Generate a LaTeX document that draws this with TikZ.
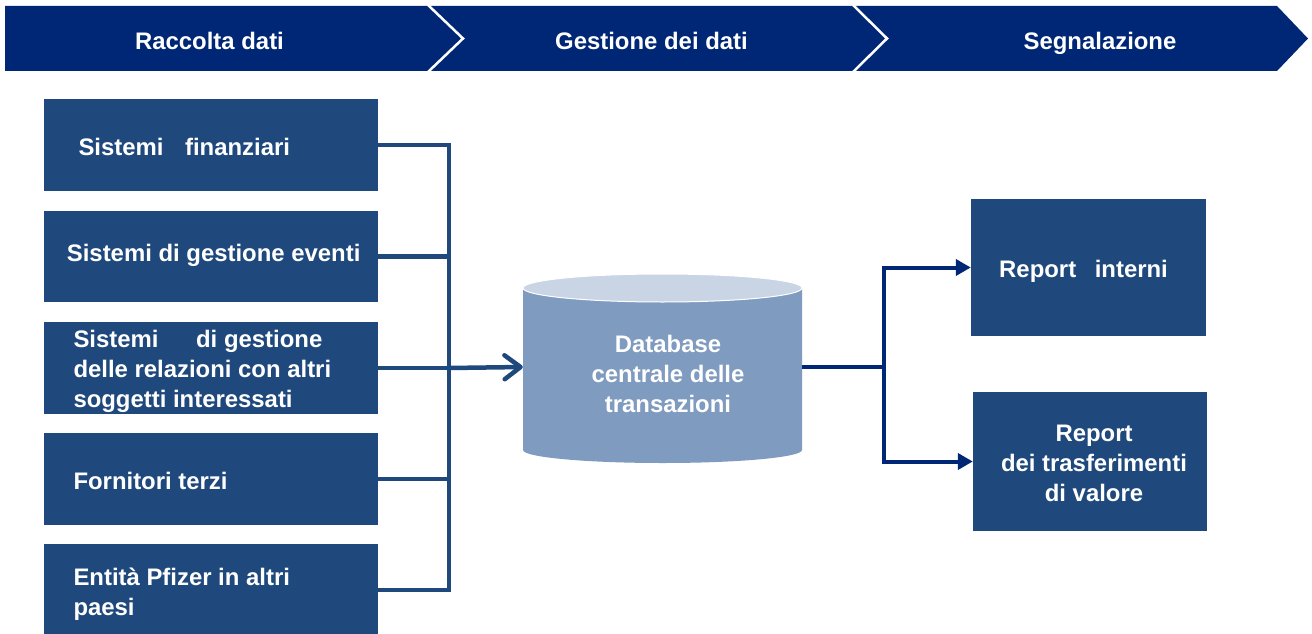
\documentclass[tikz,border=0pt]{standalone}
\usepackage{fontspec}
\setmainfont{Liberation Sans}
\usetikzlibrary{arrows.meta}
\definecolor{hdr}{HTML}{002776}
\definecolor{boxc}{HTML}{1F497D}
\definecolor{cylbody}{HTML}{7F9BC0}
\definecolor{cyltop}{HTML}{C9D5E5}
\begin{document}
\begin{tikzpicture}[x=1pt,y=-1pt,
  every node/.style={font=\fontsize{23.9}{30}\selectfont\bfseries, text=white, inner sep=0pt},
  srcbox/.style={fill=boxc, minimum width=334pt, minimum height=92pt},
  repbox/.style={fill=boxc},
  lconn/.style={draw=boxc, line width=4.5pt, line join=miter},
  rconn/.style={draw=hdr, line width=4pt, line join=miter},
  chev/.style={draw=white, line width=2.5pt}]
\useasboundingbox (0,0) rectangle (1312,634);
\fill[white] (0,0) rectangle (1312,634);
% header band
\fill[hdr] (5,6) -- (1277,6) -- (1308,38.5) -- (1277,71) -- (5,71) -- cycle;
\draw[chev] (428,5) -- (463,38.5) -- (428,72);
\draw[chev] (853,5) -- (887,38.5) -- (853,72);
\node[anchor=base] (h1) at (209.5,49) {Raccolta dati};
\node[anchor=base] (h2) at (651.5,49) {Gestione dei dati};
\node[anchor=base] (h3) at (1100,49) {Segnalazione};
% source boxes
\node[srcbox] (b1) at (211,145) {};
\node[srcbox, minimum height=91pt] (b2) at (211,256.5) {};
\node[srcbox] (b3) at (211,368) {};
\node[srcbox] (b4) at (211,479) {};
\node[srcbox] (b5) at (211,590) {};
\node[anchor=base west] (t1) at (78.3,155) {Sistemi\hspace{15pt} finanziari};
\node[anchor=base west] (t2) at (66.7,261) {Sistemi di gestione eventi};
\node[anchor=west, align=left] (t3) at (73.3,371.5) {Sistemi\hspace{31pt} di gestione\\delle relazioni con altri\\soggetti interessati};
\node[anchor=base west] (t4) at (73.3,489.5) {Fornitori terzi};
\node[anchor=west, align=left] (t5) at (73.3,594) {Entità Pfizer in altri\\paesi};
% cylinder
\fill[cylbody] (523,288) -- (523,450) arc[start angle=180, end angle=0, x radius=139.5, y radius=13] -- (802,288) -- cycle;
\filldraw[fill=cyltop, draw=white, line width=1pt] (662.5,288) ellipse [x radius=139.5, y radius=14];
\node[minimum width=279pt, minimum height=189pt] (db) at (662.5,367) {};
\node[align=center] (t8) at (668,374.4) {Database\\centrale delle\\transazioni};
% report boxes
\node[repbox, minimum width=235pt, minimum height=137pt] (r1) at (1088.5,267.5) {};
\node[repbox, minimum width=234pt, minimum height=139pt] (r2) at (1090,461.5) {};
\node[anchor=base west] (t6) at (999,277) {Report\hspace{12pt} interni};
\node[align=center] (t7) at (1094,463) {Report\\dei trasferimenti\\di valore};
% left connectors
\coordinate (busx) at (449,0);
\draw[lconn] (b1.east) -- (b1.east -| busx) -- (b5.east -| busx) -- (b5.east);
\draw[lconn] (b2.east) -- (b2.east -| busx);
\draw[lconn] (b3.east) -- (b3.east -| busx);
\draw[lconn] (b4.east) -- (b4.east -| busx);
\draw[lconn, -{Straight Barb[length=16pt, width=24pt, round]}] (b3.east -| busx) -- (db.west);
% right connectors
\coordinate (rx) at (884,0);
\draw[rconn] (db.east) -- (db.east -| rx);
\draw[rconn, -{Triangle[length=15pt, width=16pt]}] (db.east -| rx) |- (r1.west);
\draw[rconn, -{Triangle[length=15pt, width=16pt]}] (db.east -| rx) |- (r2.west);
\end{tikzpicture}
\end{document}
